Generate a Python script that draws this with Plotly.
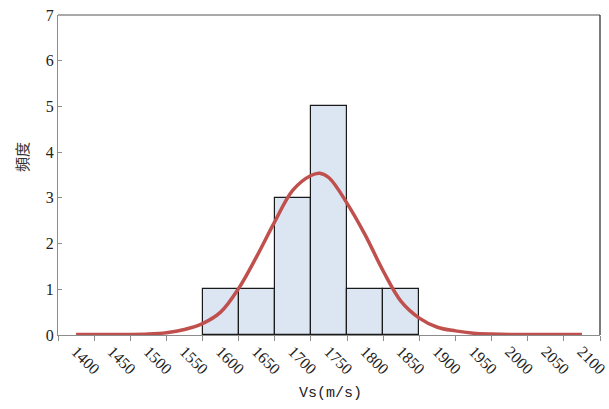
import plotly.graph_objects as go

# Histogram bins (m/s) and counts
bin_centers = [1600, 1650, 1700, 1750, 1800, 1850]
counts = [1, 1, 3, 5, 1, 1]

# Fitted curve
curve_x = [1400, 1425, 1450, 1475, 1500, 1525, 1550, 1575, 1600, 1625, 1650, 1675,
           1700, 1725, 1737, 1750, 1775, 1800, 1825, 1850, 1875, 1900, 1925, 1950, 1975,
           2000, 2025, 2050, 2075, 2100]
curve_y = [0.01, 0.01, 0.01, 0.01, 0.02, 0.05, 0.12, 0.25, 0.5, 1.02, 1.72, 2.48,
           3.17, 3.49, 3.54, 3.44, 2.88, 2.19, 1.40, 0.73, 0.37, 0.17, 0.09, 0.04, 0.02,
           0.01, 0.01, 0.01, 0.01, 0.01]

tick_vals = list(range(1400, 2101, 50))
tick_text = [str(v) for v in tick_vals]

serif = "Liberation Serif, Noto Sans CJK JP"

fig = go.Figure()
fig.add_trace(go.Bar(
    x=bin_centers, y=counts, width=50,
    marker=dict(color="#DCE6F2", line=dict(color="#1a1a1a", width=1.2)),
    showlegend=False, hoverinfo="skip"))
fig.add_trace(go.Scatter(
    x=curve_x, y=curve_y, mode="lines",
    line=dict(color="#C0504D", width=3.5, shape="spline", smoothing=1.0),
    showlegend=False))

fig.update_layout(
    width=609, height=409,
    margin=dict(l=58, r=9, t=15, b=74, autoexpand=False),
    plot_bgcolor="white", paper_bgcolor="white",
    font=dict(family=serif, size=14, color="#222"),
    bargap=0,
    xaxis=dict(
        range=[1375, 2125], tickmode="array", tickvals=tick_vals, ticktext=tick_text,
        tickangle=45, ticks="", showgrid=False, zeroline=False, automargin=False,
        showline=True, linecolor="#8c8c8c", linewidth=1,
        tickfont=dict(family=serif, size=16, color="#222"),
        minor=dict(tickmode="linear", tick0=1375, dtick=50, ticks="outside",
                   ticklen=5, tickcolor="#8c8c8c", showgrid=False),
    ),
    yaxis=dict(
        range=[0, 7], dtick=1, ticks="inside", ticklen=4, tickcolor="#8c8c8c",
        showgrid=False, zeroline=False, showline=True, linecolor="#8c8c8c", linewidth=1,
        automargin=False,
        tickfont=dict(family=serif, size=16, color="#222"),
    ),
    annotations=[
        dict(text="Vs(m/s)", xref="paper", yref="paper", x=0.5, y=0,
             xshift=1, yshift=-58, showarrow=False, xanchor="center", yanchor="middle",
             font=dict(family="Liberation Mono", size=15, color="#222")),
        dict(text="頻度", xref="paper", yref="paper", x=0, y=0.5, xshift=-37, yshift=18,
             textangle=-90, showarrow=False, xanchor="center", yanchor="middle",
             font=dict(family="Noto Sans CJK JP", size=15, color="#333")),
    ],
    shapes=[
        dict(type="line", xref="paper", yref="paper", x0=0, x1=1, y0=1, y1=1,
             line=dict(color="#555", width=1.2)),
        dict(type="line", xref="paper", yref="paper", x0=1, x1=1, y0=0, y1=1,
             line=dict(color="#222", width=1.2)),
    ],
)

fig.write_html("out.html", config={"displayModeBar": False},
               post_script="document.body.style.margin='0';document.body.style.overflow='hidden';")
